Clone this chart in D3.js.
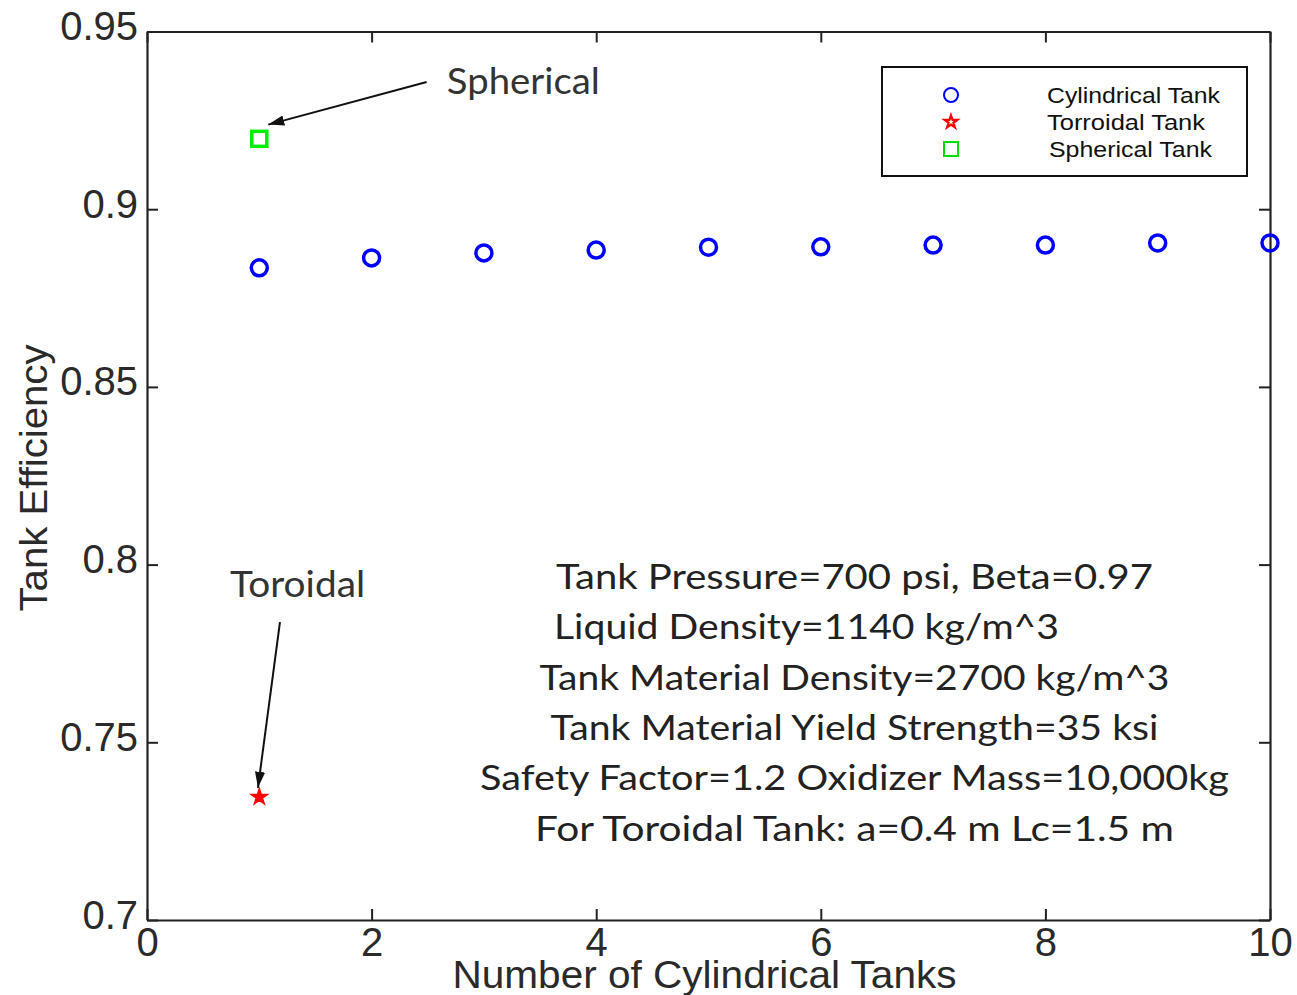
<!DOCTYPE html>
<html>
<head>
<meta charset="utf-8">
<script src="https://cdn.jsdelivr.net/npm/d3@7"></script>
<style>
  body { margin: 0; background: #fff; }
  text { font-family: "Liberation Sans", Arial, sans-serif; }
</style>
</head>
<body>
<div id="chart"></div>
<script>
var width = 1297, height = 995

// data
var tanks = [1, 2, 3, 4, 5, 6, 7, 8, 9, 10]
var cylindrical = [0.8835, 0.8863, 0.8877, 0.8885, 0.8893, 0.8894, 0.8899, 0.8899, 0.8905, 0.8905]
var toroidal = [{x: 1, y: 0.7346}]
var spherical = [{x: 1, y: 0.9198}]
var xTicks = [0, 2, 4, 6, 8, 10]
var yTicks = [0.7, 0.75, 0.8, 0.85, 0.9, 0.95]
var notes = [
    "Tank Pressure=700 psi, Beta=0.97",
    "Liquid Density=1140 kg/m^3",
    "Tank Material Density=2700 kg/m^3",
    "Tank Material Yield Strength=35 ksi",
    "Safety Factor=1.2 Oxidizer Mass=10,000kg",
    "For Toroidal Tank: a=0.4 m Lc=1.5 m"
]
var noteWidths = [597, 505, 630, 608, 749, 639]
var noteOffsets = [0, -48, 0, 0, 0, 0]
var legendItems = ["Cylindrical Tank", "Torroidal Tank", "Spherical Tank"]
var legendWidths = [173, 158, 163]

var m = {left: 147, right: 1270, top: 31.5, bottom: 920}

var x = d3.scaleLinear().domain([0, 10]).range([m.left, m.right])
var y = d3.scaleLinear().domain([0.7, 0.95]).range([m.bottom, m.top])

var svg = d3.select("#chart")
    .append("svg")
    .attr("width", width)
    .attr("height", height)

svg.append("defs").append("marker")
    .attr("id", "head")
    .attr("viewBox", "0 0 10 10")
    .attr("refX", 10).attr("refY", 5)
    .attr("markerWidth", 16).attr("markerHeight", 16)
    .attr("markerUnits", "userSpaceOnUse")
    .attr("orient", "auto")
    .append("path")
    .attr("d", "M0,1.8 L10,5 L0,8.2 Z")
    .style("fill", "#111")

// axes frame, inward ticks on all four sides
var tl = 11
var axisColor = "#222"
var gx = svg.append("g").attr("transform", "translate(0," + m.bottom + ")")
    .call(d3.axisBottom(x).tickValues(xTicks).tickSize(-tl).tickSizeOuter(0).tickFormat(d3.format("d")))
var gxt = svg.append("g").attr("transform", "translate(0," + m.top + ")")
    .call(d3.axisTop(x).tickValues(xTicks).tickSize(-tl).tickSizeOuter(0).tickFormat(""))
var gy = svg.append("g").attr("transform", "translate(" + m.left + ",0)")
    .call(d3.axisLeft(y).tickValues(yTicks).tickSize(-tl).tickSizeOuter(0).tickFormat(d => d3.format("")(+d.toFixed(2))))
var gyr = svg.append("g").attr("transform", "translate(" + m.right + ",0)")
    .call(d3.axisRight(y).tickValues(yTicks).tickSize(-tl).tickSizeOuter(0).tickFormat(""))

;[gx, gxt, gy, gyr].forEach(g => {
    g.select(".domain").style("stroke", axisColor).style("stroke-width", 2.2)
    g.selectAll(".tick line").style("stroke", axisColor).style("stroke-width", 2)
    g.selectAll("text").style("font-size", "40px").style("fill", "#2a2a2a")
})
gx.selectAll(".tick text").attr("dy", null).attr("y", 36)
gy.selectAll(".tick text").attr("dy", null).attr("y", 8).attr("x", -9)

// axis titles
svg.append("text")
    .attr("x", (m.left + m.right) / 2 - 4)
    .attr("y", 988)
    .attr("text-anchor", "middle")
    .attr("textLength", 504).attr("lengthAdjust", "spacingAndGlyphs")
    .style("font-size", "39px").style("fill", "#2a2a2a")
    .text("Number of Cylindrical Tanks")

svg.append("text")
    .attr("transform", "translate(47,478) rotate(-90)")
    .attr("text-anchor", "middle")
    .attr("textLength", 267).attr("lengthAdjust", "spacingAndGlyphs")
    .style("font-size", "38px").style("fill", "#2a2a2a")
    .text("Tank Efficiency")

// series
svg.append("g").selectAll("circle")
    .data(tanks.map((t, i) => ({x: t, y: cylindrical[i]})))
    .enter()
    .append("circle")
        .attr("cx", d => x(d.x))
        .attr("cy", d => y(d.y))
        .attr("r", 8)
        .style("fill", "none")
        .style("stroke", "#0000ff")
        .style("stroke-width", 3.5)

svg.append("g").selectAll("path")
    .data(toroidal)
    .enter()
    .append("path")
        .attr("transform", d => "translate(" + x(d.x) + "," + y(d.y) + ")")
        .attr("d", d3.symbol().type(d3.symbolStar).size(80))
        .style("fill", "#ff0000")
        .style("stroke", "#ff0000")
        .style("stroke-width", 1.5)

svg.append("g").selectAll("rect")
    .data(spherical)
    .enter()
    .append("rect")
        .attr("x", d => x(d.x) - 7.5)
        .attr("y", d => y(d.y) - 7.5)
        .attr("width", 15).attr("height", 15)
        .style("fill", "none")
        .style("stroke", "#00ee00")
        .style("stroke-width", 3.5)

// annotations
var annot = svg.append("g")
annot.append("line")
    .attr("x1", x(2.49)).attr("y1", y(0.9358))
    .attr("x2", x(1.08)).attr("y2", y(0.9238))
    .style("stroke", "#111").style("stroke-width", 2)
    .attr("marker-end", "url(#head)")
annot.append("text")
    .attr("x", x(2.67)).attr("y", y(0.9325))
    .attr("textLength", 153).attr("lengthAdjust", "spacingAndGlyphs")
    .style("font-family", "Lato, 'Open Sans', sans-serif")
    .style("font-size", "36px").style("fill", "#333")
    .text("Spherical")

annot.append("line")
    .attr("x1", x(1.184)).attr("y1", y(0.7838))
    .attr("x2", x(0.988)).attr("y2", y(0.7372))
    .style("stroke", "#111").style("stroke-width", 2)
    .attr("marker-end", "url(#head)")
annot.append("text")
    .attr("x", x(0.74)).attr("y", y(0.791))
    .attr("textLength", 135).attr("lengthAdjust", "spacingAndGlyphs")
    .style("font-family", "Lato, 'Open Sans', sans-serif")
    .style("font-size", "36px").style("fill", "#333")
    .text("Toroidal")

svg.append("g").selectAll("text")
    .data(notes)
    .enter()
    .append("text")
        .attr("x", (d, i) => x(6.3) + noteOffsets[i])
        .attr("y", (d, i) => 589 + i * 50.3)
        .attr("text-anchor", "middle")
        .attr("textLength", (d, i) => noteWidths[i])
        .attr("lengthAdjust", "spacingAndGlyphs")
        .style("font-family", "Lato, 'Open Sans', sans-serif")
        .style("font-size", "35px").style("fill", "#222")
        .text(d => d)

// legend
var lg = svg.append("g").attr("transform", "translate(882,67)")
lg.append("rect")
    .attr("width", 365).attr("height", 109)
    .style("fill", "#fff").style("stroke", "#111").style("stroke-width", 2)
var rows = lg.selectAll(".row").data(legendItems).enter()
    .append("g").attr("class", "row")
    .attr("transform", (d, i) => "translate(69," + (28 + i * 27) + ")")
rows.filter((d, i) => i === 0).append("circle")
    .attr("r", 7).style("fill", "none").style("stroke", "#0000ff").style("stroke-width", 2)
rows.filter((d, i) => i === 1).append("path")
    .attr("d", d3.symbol().type(d3.symbolStar).size(50))
    .style("fill", "none").style("stroke", "#ff0000").style("stroke-width", 2.2)
rows.filter((d, i) => i === 2).append("rect")
    .attr("x", -7).attr("y", -7).attr("width", 14).attr("height", 14)
    .style("fill", "none").style("stroke", "#00dd00").style("stroke-width", 2)
rows.append("text")
    .attr("x", (d, i) => i === 2 ? 98 : 96)
    .attr("y", 8)
    .attr("textLength", (d, i) => legendWidths[i])
    .attr("lengthAdjust", "spacingAndGlyphs")
    .style("font-size", "22px").style("fill", "#111")
    .text(d => d)
</script>
</body>
</html>
